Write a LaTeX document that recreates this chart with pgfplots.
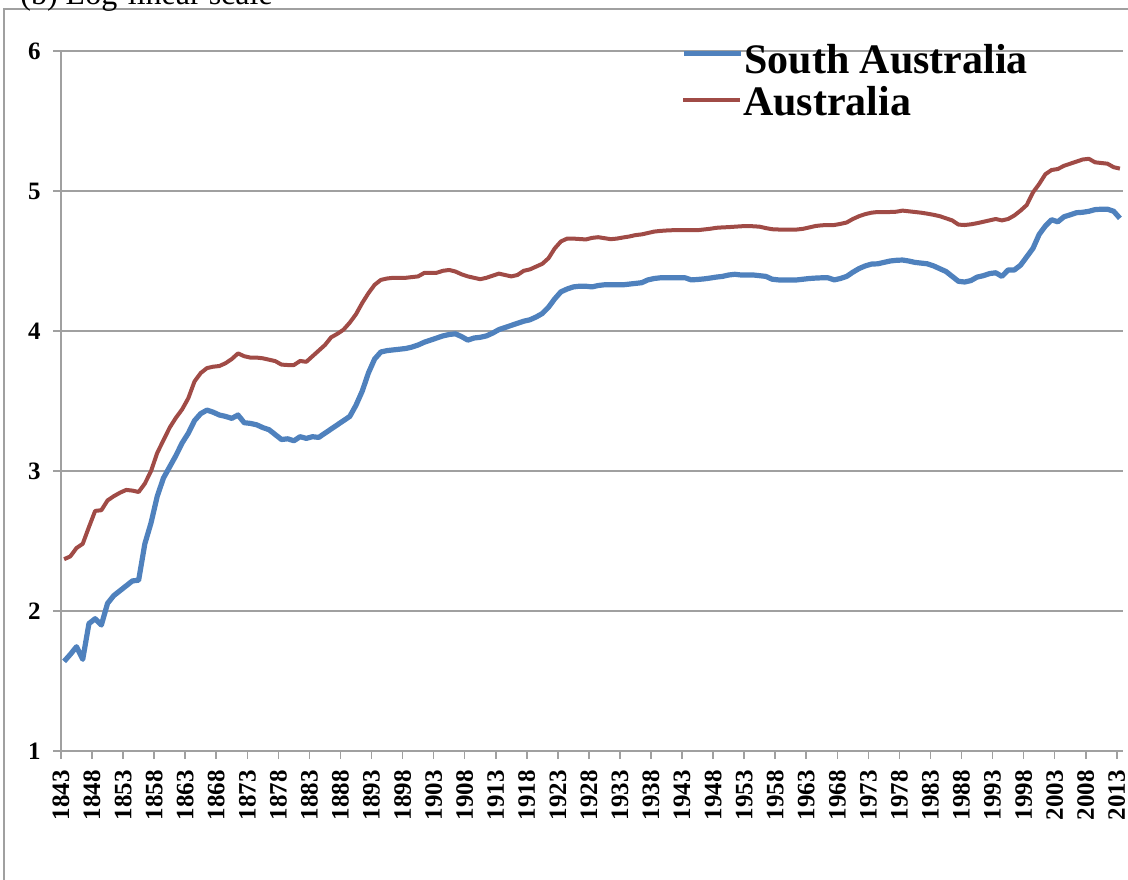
\documentclass[border=0pt]{standalone}
\usepackage{fontspec}
\setmainfont{Liberation Serif}
\usepackage{pgfplots}
\pgfplotsset{compat=1.18}
\usepackage{pgfplotstable}
\definecolor{saBlue}{HTML}{4F81BD}
\definecolor{auRed}{HTML}{A04B46}
\definecolor{gridGrey}{HTML}{A0A0A0}

\pgfplotstableread{
year v
1843 1.64
1844 1.69
1845 1.745
1846 1.655
1847 1.91
1848 1.945
1849 1.90
1850 2.055
1851 2.11
1852 2.145
1853 2.18
1854 2.215
1855 2.22
1856 2.48
1857 2.63
1858 2.82
1859 2.95
1860 3.03
1861 3.11
1862 3.20
1863 3.27
1864 3.36
1865 3.41
1866 3.435
1867 3.42
1868 3.40
1869 3.39
1870 3.376
1871 3.40
1872 3.345
1873 3.34
1874 3.33
1875 3.31
1876 3.295
1877 3.26
1878 3.225
1879 3.23
1880 3.216
1881 3.245
1882 3.233
1883 3.245
1884 3.24
1885 3.27
1886 3.30
1887 3.33
1888 3.36
1889 3.39
1890 3.47
1891 3.57
1892 3.70
1893 3.80
1894 3.85
1895 3.86
1896 3.865
1897 3.87
1898 3.875
1899 3.885
1900 3.90
1901 3.92
1902 3.935
1903 3.95
1904 3.965
1905 3.975
1906 3.98
1907 3.96
1908 3.935
1909 3.95
1910 3.955
1911 3.965
1912 3.985
1913 4.01
1914 4.025
1915 4.04
1916 4.055
1917 4.07
1918 4.08
1919 4.10
1920 4.125
1921 4.17
1922 4.23
1923 4.28
1924 4.30
1925 4.315
1926 4.32
1927 4.32
1928 4.315
1929 4.325
1930 4.33
1931 4.33
1932 4.33
1933 4.33
1934 4.335
1935 4.34
1936 4.345
1937 4.365
1938 4.375
1939 4.38
1940 4.38
1941 4.38
1942 4.38
1943 4.38
1944 4.365
1945 4.368
1946 4.372
1947 4.378
1948 4.385
1949 4.39
1950 4.40
1951 4.405
1952 4.40
1953 4.40
1954 4.40
1955 4.395
1956 4.39
1957 4.37
1958 4.365
1959 4.365
1960 4.365
1961 4.365
1962 4.37
1963 4.375
1964 4.378
1965 4.38
1966 4.38
1967 4.365
1968 4.375
1969 4.39
1970 4.42
1971 4.446
1972 4.465
1973 4.478
1974 4.48
1975 4.49
1976 4.50
1977 4.505
1978 4.507
1979 4.50
1980 4.49
1981 4.485
1982 4.48
1983 4.465
1984 4.445
1985 4.425
1986 4.39
1987 4.355
1988 4.35
1989 4.36
1990 4.385
1991 4.395
1992 4.41
1993 4.416
1994 4.39
1995 4.436
1996 4.436
1997 4.47
1998 4.53
1999 4.59
2000 4.69
2001 4.75
2002 4.795
2003 4.78
2004 4.816
2005 4.83
2006 4.845
2007 4.848
2008 4.855
2009 4.867
2010 4.87
2011 4.87
2012 4.855
2013 4.805
}\southaus

\pgfplotstableread{
year v
1843 2.37
1844 2.39
1845 2.45
1846 2.48
1847 2.60
1848 2.715
1849 2.72
1850 2.79
1851 2.82
1852 2.845
1853 2.865
1854 2.86
1855 2.85
1856 2.91
1857 3.00
1858 3.13
1859 3.22
1860 3.31
1861 3.38
1862 3.44
1863 3.52
1864 3.64
1865 3.70
1866 3.735
1867 3.745
1868 3.75
1869 3.77
1870 3.80
1871 3.84
1872 3.82
1873 3.81
1874 3.81
1875 3.805
1876 3.795
1877 3.785
1878 3.76
1879 3.757
1880 3.757
1881 3.786
1882 3.78
1883 3.82
1884 3.86
1885 3.90
1886 3.955
1887 3.98
1888 4.01
1889 4.06
1890 4.12
1891 4.20
1892 4.27
1893 4.33
1894 4.365
1895 4.375
1896 4.38
1897 4.38
1898 4.38
1899 4.385
1900 4.39
1901 4.415
1902 4.415
1903 4.416
1904 4.43
1905 4.436
1906 4.425
1907 4.405
1908 4.39
1909 4.38
1910 4.37
1911 4.38
1912 4.395
1913 4.41
1914 4.40
1915 4.39
1916 4.40
1917 4.43
1918 4.44
1919 4.46
1920 4.48
1921 4.52
1922 4.59
1923 4.64
1924 4.66
1925 4.66
1926 4.657
1927 4.654
1928 4.665
1929 4.67
1930 4.663
1931 4.656
1932 4.66
1933 4.668
1934 4.675
1935 4.685
1936 4.69
1937 4.70
1938 4.71
1939 4.715
1940 4.718
1941 4.72
1942 4.72
1943 4.72
1944 4.72
1945 4.72
1946 4.725
1947 4.73
1948 4.737
1949 4.74
1950 4.742
1951 4.745
1952 4.748
1953 4.75
1954 4.748
1955 4.745
1956 4.735
1957 4.727
1958 4.725
1959 4.725
1960 4.725
1961 4.725
1962 4.73
1963 4.74
1964 4.75
1965 4.755
1966 4.757
1967 4.757
1968 4.765
1969 4.775
1970 4.80
1971 4.82
1972 4.835
1973 4.845
1974 4.85
1975 4.85
1976 4.85
1977 4.852
1978 4.86
1979 4.855
1980 4.85
1981 4.845
1982 4.838
1983 4.83
1984 4.82
1985 4.805
1986 4.79
1987 4.76
1988 4.757
1989 4.762
1990 4.77
1991 4.78
1992 4.79
1993 4.80
1994 4.79
1995 4.80
1996 4.825
1997 4.86
1998 4.90
1999 4.99
2000 5.05
2001 5.12
2002 5.15
2003 5.157
2004 5.18
2005 5.195
2006 5.21
2007 5.225
2008 5.23
2009 5.205
2010 5.20
2011 5.195
2012 5.17
2013 5.16
}\australia

\pgfplotsset{
  legstyle/.style={
    legend style={anchor=north west, draw=none, fill=none,
      font=\fontsize{21}{22}\selectfont\bfseries, row sep=0pt,
      nodes={inner sep=0.5pt, text height=15pt, text depth=7pt}},
    legend cell align=left,
    legend image code/.code={\draw[##1] (0pt,#1) -- (28.5pt,#1);},
  }
}

\begin{document}
\begin{tikzpicture}
\useasboundingbox (-30.5pt,-64pt) rectangle (533.5pt,375.5pt);
\draw[color=gridGrey, line width=0.65pt] (-28.5pt,-120pt) rectangle (600pt,371pt);
\node[anchor=base west, inner sep=0pt, font=\fontsize{16}{18}\selectfont] at (-20.5pt,373pt) {(b) Log-linear scale};
\begin{axis}[
  at={(0pt,0pt)}, anchor=south west,
  scale only axis, width=531pt, height=350pt,
  xmin=1842.5, xmax=2013.5, ymin=1, ymax=6,
  axis x line*=bottom, axis y line*=left,
  axis line style={color=gridGrey, line width=1pt},
  xtick={1842.5,1847.5,...,2012.5},
  xticklabels={1843,1848,1853,1858,1863,1868,1873,1878,1883,1888,1893,1898,1903,1908,1913,1918,1923,1928,1933,1938,1943,1948,1953,1958,1963,1968,1973,1978,1983,1988,1993,1998,2003,2008,2013},
  ytick={1,2,3,4,5,6},
  ymajorgrids,
  grid style={color=gridGrey, line width=1pt},
  tick align=outside, major tick length=4pt,
  tick style={color=gridGrey, line width=0.8pt},
  /pgf/number format/assume math mode=true,
  xticklabel shift=5.5pt, yticklabel shift=6pt,
  xticklabel style={rotate=90, anchor=east, inner sep=0pt, font=\fontsize{12.5}{14}\selectfont\bfseries},
  yticklabel style={anchor=east, inner sep=0pt, font=\fontsize{12.5}{14}\selectfont\bfseries},
  legstyle=6pt,
  legend style={at={(axis description cs:0.578,1.0186)}},
  clip=false,
]
\addplot[color=auRed, line width=2pt, line join=round, forget plot] table[x=year,y=v] {\australia};
\addplot[color=saBlue, line width=2.6pt, line join=round] table[x=year,y=v] {\southaus};
\addlegendentry{South Australia}
\end{axis}
\begin{axis}[
  at={(0pt,0pt)}, anchor=south west,
  scale only axis, width=531pt, height=350pt,
  xmin=0, xmax=1, ymin=0, ymax=1, hide axis,
  legstyle=3.5pt,
  legend style={at={(axis description cs:0.578,0.9586)}},
]
\addlegendimage{color=auRed, line width=2pt}
\addlegendentry{Australia}
\end{axis}
\end{tikzpicture}
\end{document}
